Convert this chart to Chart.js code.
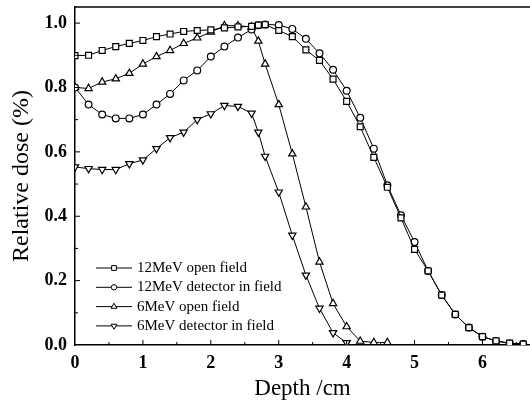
<!DOCTYPE html>
<html>
<head>
<meta charset="utf-8">
<script src="https://cdn.jsdelivr.net/npm/chart.js@4.4.0/dist/chart.umd.min.js"></script>
<style>
  html, body { margin: 0; padding: 0; background: #fff; }
  #wrap { width: 530px; height: 400px; }
</style>
</head>
<body>
<div id="wrap"><canvas id="chart-container" width="530" height="400"></canvas></div>
<script>
// depth (cm) for each series, and relative dose
const depth12 = [0, 0.2, 0.4, 0.6, 0.8, 1.0, 1.2, 1.4, 1.6, 1.8, 2.0, 2.2, 2.4, 2.6, 2.7, 2.8,
    3.0, 3.2, 3.4, 3.6, 3.8, 4.0, 4.2, 4.4, 4.6, 4.8, 5.0, 5.2, 5.4, 5.6, 5.8, 6.0, 6.2, 6.4, 6.6];
const open12 = [0.899, 0.900, 0.915, 0.927, 0.937, 0.946, 0.958, 0.966, 0.974, 0.977, 0.979, 0.985, 0.988, 0.990, 0.994, 0.995,
    0.977, 0.958, 0.917, 0.884, 0.826, 0.757, 0.678, 0.583, 0.490, 0.395, 0.297, 0.230, 0.155, 0.095, 0.054, 0.026, 0.013, 0.006, 0.003];
const det12 = [0.800, 0.747, 0.716, 0.704, 0.704, 0.716, 0.747, 0.780, 0.822, 0.853, 0.896, 0.927, 0.955, 0.980, 0.993, 0.996,
    0.994, 0.982, 0.951, 0.906, 0.855, 0.790, 0.706, 0.610, 0.496, 0.403, 0.320, 0.230, 0.155, 0.095, 0.054, 0.026, 0.012, 0.005, 0.003];

const depth6open = [0, 0.2, 0.4, 0.6, 0.8, 1.0, 1.2, 1.4, 1.6, 1.8, 2.0, 2.2, 2.4, 2.6, 2.7, 2.8,
    3.0, 3.2, 3.4, 3.6, 3.8, 4.0, 4.2, 4.4, 4.6];
const open6 = [0.800, 0.797, 0.817, 0.827, 0.844, 0.873, 0.896, 0.915, 0.937, 0.954, 0.972, 0.992, 0.992, 0.988, 0.944, 0.873,
    0.747, 0.594, 0.429, 0.258, 0.129, 0.057, 0.012, 0.008, 0.008];

const depth6det = [0, 0.2, 0.4, 0.6, 0.8, 1.0, 1.2, 1.4, 1.6, 1.8, 2.0, 2.2, 2.4, 2.6, 2.7, 2.8,
    3.0, 3.2, 3.4, 3.6, 3.8, 4.0];
const det6 = [0.553, 0.548, 0.545, 0.545, 0.563, 0.575, 0.610, 0.644, 0.661, 0.700, 0.718, 0.744, 0.741, 0.720, 0.661, 0.586,
    0.475, 0.341, 0.217, 0.114, 0.038, 0.007];

const seriesLabels = ['12MeV open field', '12MeV detector in field', '6MeV open field', '6MeV detector in field'];
const xTicks = [0, 1, 2, 3, 4, 5, 6];
const yTicks = [0.0, 0.2, 0.4, 0.6, 0.8, 1.0];

const SERIF = '"Liberation Serif", "Times New Roman", serif';

function toPoints(xs, ys) {
    return xs.map((x, i) => ({ x: x, y: ys[i] }));
}

function makeSet(label, xs, ys, style, radius, rotation) {
    return {
        label: label,
        data: toPoints(xs, ys),
        borderColor: '#000',
        borderWidth: 1,
        backgroundColor: '#fff',
        pointStyle: style,
        pointRadius: radius,
        pointRotation: rotation || 0,
        pointBorderColor: '#000',
        pointBackgroundColor: '#fff',
        pointBorderWidth: 1.2,
        tension: 0,
        showLine: true,
    };
}

// no extra room for half labels at the axis ends
function noEdgePadding(scale) {
    scale.paddingTop = 0;
    scale.paddingBottom = 0;
    scale.paddingLeft = 0;
    scale.paddingRight = 0;
}

// inward tick marks plus the top frame line
const frameTicks = {
    id: 'frameTicks',
    afterDraw(chart) {
        const ctx = chart.ctx;
        const a = chart.chartArea;
        const xs = chart.scales.x, ys = chart.scales.y;
        ctx.save();
        ctx.strokeStyle = '#000';
        ctx.lineWidth = 1.5;
        ctx.beginPath();
        ctx.moveTo(a.left, a.top);
        ctx.lineTo(a.right, a.top);
        ctx.stroke();
        ctx.lineWidth = 1;
        ctx.beginPath();
        for (let i = 1; i <= 13; i++) {
            const v = i / 2;
            const px = xs.getPixelForValue(v);
            const len = (i % 2 === 0) ? 5 : 3;
            ctx.moveTo(px, a.bottom);
            ctx.lineTo(px, a.bottom - len);
        }
        for (let i = 1; i <= 10; i++) {
            const py = ys.getPixelForValue(i / 10);
            const len = (i % 2 === 0) ? 5 : 3;
            ctx.moveTo(a.left, py);
            ctx.lineTo(a.left + len, py);
        }
        ctx.stroke();
        ctx.restore();
    }
};

// legend drawn inside the plot, lower left
const innerLegend = {
    id: 'innerLegend',
    afterDraw(chart) {
        const ctx = chart.ctx;
        const x0 = 96, x1 = 132, textX = 137;
        const yStart = 268, step = 19.3;
        ctx.save();
        chart.data.datasets.forEach((ds, i) => {
            const y = yStart + i * step;
            ctx.strokeStyle = '#000';
            ctx.lineWidth = 1;
            ctx.beginPath();
            ctx.moveTo(x0, y);
            ctx.lineTo(x1, y);
            ctx.stroke();
            ctx.fillStyle = '#fff';
            ctx.lineWidth = 1;
            Chart.helpers.drawPoint(ctx, {
                pointStyle: ds.pointStyle,
                rotation: ds.pointRotation,
                radius: ds.pointRadius * 0.8,
                borderWidth: 1
            }, (x0 + x1) / 2, y);
            ctx.fillStyle = '#000';
            ctx.font = '15px ' + SERIF;
            ctx.textBaseline = 'middle';
            ctx.textAlign = 'left';
            ctx.fillText(ds.label, textX, y);
        });
        ctx.restore();
    }
};

const ctx = document.getElementById('chart-container').getContext('2d');
new Chart(ctx, {
    type: 'scatter',
    data: {
        datasets: [
            makeSet(seriesLabels[0], depth12, open12, 'rect', 4.2),
            makeSet(seriesLabels[1], depth12, det12, 'circle', 3.4),
            makeSet(seriesLabels[2], depth6open, open6, 'triangle', 4.2),
            makeSet(seriesLabels[3], depth6det, det6, 'triangle', 4.2, 180),
        ],
    },
    options: {
        responsive: false,
        animation: false,
        layout: { autoPadding: false, padding: { top: 7, right: 0, left: 0, bottom: 0 } },
        plugins: {
            legend: { display: false },
            tooltip: { enabled: false },
        },
        scales: {
            x: {
                type: 'linear',
                min: 0,
                max: 6.7,
                afterFit(scale) { scale.height = 55; noEdgePadding(scale); },
                afterBuildTicks(scale) { scale.ticks = xTicks.map(v => ({ value: v })); },
                grid: { display: false, drawTicks: false },
                border: { display: true, color: '#000', width: 1.5 },
                ticks: {
                    padding: 8,
                    color: '#000',
                    font: { family: SERIF, size: 18, weight: 'bold' },
                    callback: v => String(v),
                },
                title: {
                    display: true,
                    text: 'Depth /cm',
                    color: '#000',
                    font: { family: SERIF, size: 23, lineHeight: 1.0 },
                    padding: { top: 0, bottom: 0 },
                },
            },
            y: {
                type: 'linear',
                min: 0,
                max: 1.05,
                afterFit(scale) { scale.width = 75; noEdgePadding(scale); },
                afterBuildTicks(scale) { scale.ticks = yTicks.map(v => ({ value: v })); },
                grid: { display: false, drawTicks: false },
                border: { display: true, color: '#000', width: 1.5 },
                ticks: {
                    padding: 8,
                    color: '#000',
                    font: { family: SERIF, size: 18, weight: 'bold' },
                    callback: v => Number(v).toFixed(1),
                },
                title: {
                    display: true,
                    text: 'Relative dose (%)',
                    color: '#000',
                    font: { family: SERIF, size: 24, lineHeight: 1.0 },
                    padding: { top: 10, bottom: 0 },
                },
            },
        },
    },
    plugins: [frameTicks, innerLegend],
});
</script>
</body>
</html>
